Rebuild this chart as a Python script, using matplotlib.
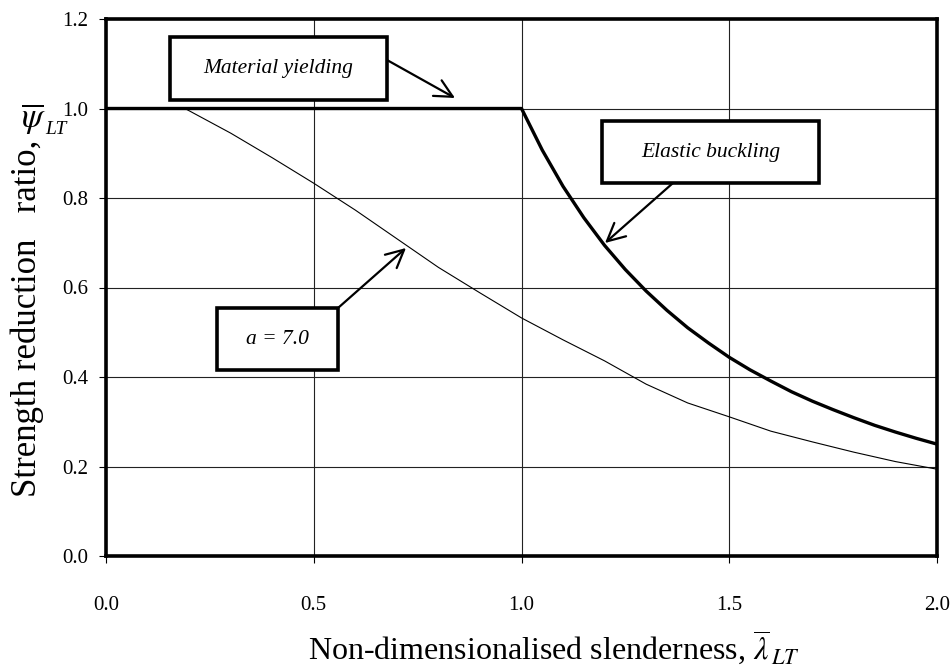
import matplotlib
matplotlib.use("Agg")
import matplotlib.pyplot as plt
from matplotlib.patches import Rectangle

plt.rcParams["font.family"] = ["Liberation Serif", "DejaVu Serif"]
plt.rcParams["mathtext.fontset"] = "stix"

# Elastic buckling / material yielding envelope (thick line)
env_x = [0.0, 1.0, 1.05, 1.1, 1.15, 1.2, 1.25, 1.3, 1.35, 1.4, 1.45, 1.5,
         1.55, 1.6, 1.65, 1.7, 1.75, 1.8, 1.85, 1.9, 1.95, 2.0]
env_y = [1.0, 1.0, 0.907, 0.826, 0.756, 0.694, 0.640, 0.592, 0.549, 0.510,
         0.476, 0.444, 0.416, 0.391, 0.367, 0.346, 0.327, 0.309, 0.292,
         0.277, 0.263, 0.250]

# Design curve for a = 7.0 (thin line)
a7_x = [0.0, 0.19, 0.25, 0.3, 0.4, 0.5, 0.6, 0.7, 0.8, 0.9, 1.0, 1.1, 1.2,
        1.3, 1.4, 1.5, 1.6, 1.7, 1.8, 1.9, 2.0]
a7_y = [1.0, 1.0, 0.97, 0.945, 0.89, 0.833, 0.773, 0.709, 0.645, 0.588,
        0.532, 0.483, 0.436, 0.384, 0.342, 0.311, 0.279, 0.255, 0.232,
        0.211, 0.194]

x_ticks = [0.0, 0.5, 1.0, 1.5, 2.0]
y_ticks = [0.0, 0.2, 0.4, 0.6, 0.8, 1.0, 1.2]

fig = plt.figure(figsize=(9.53, 6.71), dpi=100)
ax = fig.add_axes([106 / 953, 1 - 556 / 671, 831 / 953, 537 / 671])

ax.plot(a7_x, a7_y, color="black", lw=0.8, zorder=3)
ax.plot(env_x, env_y, color="black", lw=2.4, zorder=4)

ax.set_xlim(0, 2)
ax.set_ylim(0, 1.2)
ax.set_xticks(x_ticks)
ax.set_yticks(y_ticks)
ax.set_xticklabels(["%.1f" % v for v in x_ticks])
ax.set_yticklabels(["%.1f" % v for v in y_ticks])
ax.grid(True, color="#222222", lw=0.8)
ax.set_axisbelow(True)
for s in ax.spines.values():
    s.set_linewidth(2.6)
ax.tick_params(axis="x", direction="out", length=5, width=0.8, pad=24,
               labelsize=15)
ax.tick_params(axis="y", direction="out", length=5, width=0.8, pad=8,
               labelsize=15)

ax.set_xlabel(r"Non-dimensionalised slenderness, $\overline{\lambda}_{\,LT}$",
              fontsize=23)
ax.xaxis.set_label_coords(0.539, -0.136)
ax.set_ylabel("Strength reduction   ratio,", fontsize=25)
ax.yaxis.set_label_coords(-0.075, 0.443)
# symbol sits upright above the rotated label
fig.text(21 / 953, 1 - 127 / 671, r"$\overline{\psi}$", fontsize=25,
         ha="left", va="baseline")
fig.text(45 / 953, 1 - 134 / 671, "LT", fontsize=14, style="italic",
         ha="left", va="baseline")


def px(x, y):
    return ((x - 106) / 415.5, (556 - y) / 447.5)


def box(x0, y0, x1, y1, label):
    a = px(x0, y1)
    b = px(x1, y0)
    ax.add_patch(Rectangle(a, b[0] - a[0], b[1] - a[1], facecolor="white",
                           edgecolor="black", lw=2.6, zorder=6))
    ax.text((a[0] + b[0]) / 2, (a[1] + b[1]) / 2, label, style="italic",
            fontsize=15.5, ha="center", va="center", zorder=7)


def arrow(start, tip):
    ax.annotate("", xy=px(*tip), xytext=px(*start),
                arrowprops=dict(arrowstyle="->", lw=1.6, color="black",
                                mutation_scale=32, shrinkA=0, shrinkB=0),
                zorder=5)


box(170, 37, 387, 100, "Material yielding")
arrow((387, 60), (455, 98))
box(602, 121, 819, 183, "Elastic buckling")
arrow((673, 183), (605, 243))
box(217, 308, 338, 370, "a = 7.0")
arrow((338, 308), (406, 248))

fig.savefig("out.png", dpi=100)
